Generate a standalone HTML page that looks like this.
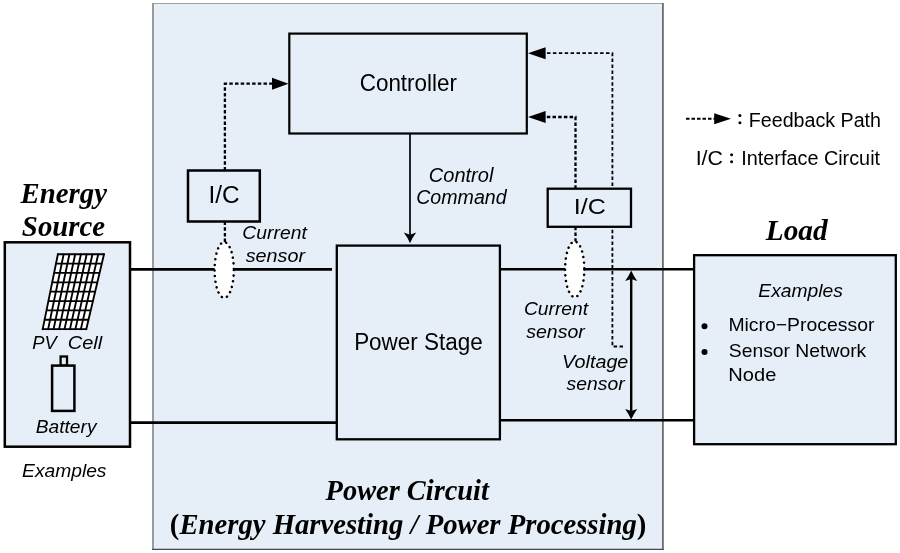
<!DOCTYPE html>
<html><head><meta charset="utf-8">
<style>
html,body{margin:0;padding:0;background:#fff;width:900px;height:553px;overflow:hidden}
svg{display:block;will-change:transform}
text{fill:#000}
</style></head><body>
<svg width="900" height="553" viewBox="0 0 900 553">
<rect x="152.5" y="3.2" width="511" height="546.4" fill="#e6eef8"/><path d="M152.1 3.5H663.5" stroke="#a2a2a2" stroke-width="1.1"/><path d="M153 3V549.6" stroke="#8e9398" stroke-width="1.8"/><path d="M662.9 3V549.8" stroke="#5c5c5c" stroke-width="1.6"/><path d="M152.1 549.3H663.7" stroke="#4a4a4a" stroke-width="1.2"/>
<g fill="none" stroke="#000">
<path d="M224.9 170.5V83.7H274" stroke-width="2.3" stroke-dasharray="3.5 2.2"/>
<path d="M224.9 221.5V243" stroke-width="2.3" stroke-dasharray="3.5 2.2"/>
<path d="M575.5 188.7V117H544" stroke-width="2.3" stroke-dasharray="3.5 2.2"/>
<path d="M575.5 226.8V242" stroke-width="2.3" stroke-dasharray="3.5 2.2"/>
<path d="M623 346.5H612.4V53.2H544" stroke-width="1.8" stroke-dasharray="3.5 2.4"/>
</g>
<path d="M272 77.8L288.5 83.7L272 89.7z" fill="#000"/>
<path d="M545.6 111L528 117L545.6 123z" fill="#000"/>
<path d="M545.6 47.2L528 53.2L545.6 59.2z" fill="#000"/>
<g stroke="#000" stroke-width="2.6" fill="none"><path d="M130 269.4H332"/><path d="M500 269.2H694"/><path d="M130 422.6H336.6"/><path d="M500 420.3H694"/></g>
<rect x="289.3" y="33.6" width="237.5" height="99.9" fill="#e6eef8" stroke="#000" stroke-width="2.2"/>
<text x="359.76" y="90.7" textLength="97.1" lengthAdjust="spacingAndGlyphs" style='font-family:"Liberation Sans",sans-serif;font-size:23.8px'>Controller</text>
<path d="M410 134V237" stroke="#000" stroke-width="1.7"/><path d="M410 243.3Q412.4 237.5 416.2 232.6L410 234.8L403.8 232.6Q407.6 237.5 410 243.3z" fill="#000"/>
<text x="428.81" y="181.7" textLength="64.57" lengthAdjust="spacingAndGlyphs" style='font-family:"Liberation Sans",sans-serif;font-style:italic;font-size:20.2px'>Control</text>
<text x="416.21" y="203.6" textLength="90.45" lengthAdjust="spacingAndGlyphs" style='font-family:"Liberation Sans",sans-serif;font-style:italic;font-size:19.9px'>Command</text>
<rect x="336.8" y="245.6" width="163.1" height="193.7" fill="#e6eef8" stroke="#000" stroke-width="2.3"/>
<text x="354.14" y="349.5" textLength="128.74" lengthAdjust="spacingAndGlyphs" style='font-family:"Liberation Sans",sans-serif;font-size:23px'>Power Stage</text>
<rect x="188" y="170.5" width="71.8" height="51" fill="#e6eef8" stroke="#000" stroke-width="2.5"/>
<text x="208.53" y="203.1" textLength="31.14" lengthAdjust="spacingAndGlyphs" style='font-family:"Liberation Sans",sans-serif;font-size:23.5px'>I/C</text>
<rect x="547.7" y="188.7" width="83.3" height="38.1" fill="#e6eef8" stroke="#000" stroke-width="2.3"/>
<text x="573.72" y="214.1" textLength="32.06" lengthAdjust="spacingAndGlyphs" style='font-family:"Liberation Sans",sans-serif;font-size:22px'>I/C</text>
<ellipse cx="224.2" cy="270" rx="9.6" ry="27.8" fill="#fff" stroke="#000" stroke-width="2.5" stroke-dasharray="0.1 5.5" stroke-linecap="round"/>
<ellipse cx="574.7" cy="269.3" rx="9.6" ry="27.8" fill="#fff" stroke="#000" stroke-width="2.5" stroke-dasharray="0.1 5.5" stroke-linecap="round"/>
<text x="242.29" y="238.5" textLength="64.48" lengthAdjust="spacingAndGlyphs" style='font-family:"Liberation Sans",sans-serif;font-style:italic;font-size:19.2px'>Current</text>
<text x="245.7" y="262" textLength="59.29" lengthAdjust="spacingAndGlyphs" style='font-family:"Liberation Sans",sans-serif;font-style:italic;font-size:19px'>sensor</text>
<text x="523.9" y="314.9" textLength="64.18" lengthAdjust="spacingAndGlyphs" style='font-family:"Liberation Sans",sans-serif;font-style:italic;font-size:19.2px'>Current</text>
<text x="526.2" y="337.5" textLength="58.6" lengthAdjust="spacingAndGlyphs" style='font-family:"Liberation Sans",sans-serif;font-style:italic;font-size:19px'>sensor</text>
<text x="562.14" y="368.2" textLength="66.24" lengthAdjust="spacingAndGlyphs" style='font-family:"Liberation Sans",sans-serif;font-style:italic;font-size:19.2px'>Voltage</text>
<text x="566.5" y="389.9" textLength="58.11" lengthAdjust="spacingAndGlyphs" style='font-family:"Liberation Sans",sans-serif;font-style:italic;font-size:19px'>sensor</text>
<path d="M631.2 276V414" stroke="#000" stroke-width="2.4"/><path d="M631.2 270.4Q633.6 275.8 637.2 281L631.2 279L625.2 281Q628.8 275.8 631.2 270.4z" fill="#000"/><path d="M631.2 419.6Q633.6 414.2 637.2 409L631.2 411L625.2 409Q628.8 414.2 631.2 419.6z" fill="#000"/>
<text x="20.6" y="202.5" textLength="86.3" lengthAdjust="spacingAndGlyphs" style='font-family:"Liberation Serif",serif;font-weight:bold;font-style:italic;font-size:28.5px'>Energy</text>
<text x="21.89" y="236.4" textLength="83.16" lengthAdjust="spacingAndGlyphs" style='font-family:"Liberation Serif",serif;font-weight:bold;font-style:italic;font-size:28.5px'>Source</text>
<rect x="4.8" y="242.3" width="125.2" height="204.4" fill="#e6eef8" stroke="#000" stroke-width="2.5"/>
<path d="M57.90 254.20L104.00 254.20L86.30 329.16L42.70 329.16z" fill="#fff"/><path d="M57.90 254.20H104.00M56.00 263.57H101.79M54.10 272.94H99.58M52.20 282.31H97.36M50.30 291.68H95.15M48.40 301.05H92.94M46.50 310.42H90.72M44.60 319.79H88.51M42.70 329.16H86.30M57.90 254.20L42.70 329.16M63.66 254.20L48.15 329.16M69.42 254.20L53.60 329.16M75.19 254.20L59.05 329.16M80.95 254.20L64.50 329.16M86.71 254.20L69.95 329.16M92.47 254.20L75.40 329.16M98.24 254.20L80.85 329.16M104.00 254.20L86.30 329.16" stroke="#000" stroke-width="1.85" fill="none" stroke-linecap="square"/>
<text x="32.2" y="349.3" textLength="24.49" lengthAdjust="spacingAndGlyphs" style='font-family:"Liberation Sans",sans-serif;font-style:italic;font-size:18.3px'>PV</text>
<text x="67.81" y="349.3" textLength="34.45" lengthAdjust="spacingAndGlyphs" style='font-family:"Liberation Sans",sans-serif;font-style:italic;font-size:18.3px'>Cell</text>
<rect x="60.6" y="356.5" width="6.4" height="9.1" fill="#e6eef8" stroke="#000" stroke-width="2.3"/>
<rect x="52.1" y="365.6" width="22.3" height="45.3" fill="#e6eef8" stroke="#000" stroke-width="2.5"/>
<text x="35.82" y="433.2" textLength="60.67" lengthAdjust="spacingAndGlyphs" style='font-family:"Liberation Sans",sans-serif;font-style:italic;font-size:17.8px'>Battery</text>
<text x="22.07" y="477.4" textLength="84.4" lengthAdjust="spacingAndGlyphs" style='font-family:"Liberation Sans",sans-serif;font-style:italic;font-size:18.6px'>Examples</text>
<text x="765.8" y="239.5" textLength="61.88" lengthAdjust="spacingAndGlyphs" style='font-family:"Liberation Serif",serif;font-weight:bold;font-style:italic;font-size:28.5px'>Load</text>
<rect x="694.1" y="255.2" width="201.7" height="189" fill="#e6eef8" stroke="#000" stroke-width="2.3"/>
<text x="758.37" y="296.6" textLength="84.5" lengthAdjust="spacingAndGlyphs" style='font-family:"Liberation Sans",sans-serif;font-style:italic;font-size:18.6px'>Examples</text>
<circle cx="704.5" cy="326.2" r="3" fill="#000"/><circle cx="704.5" cy="351.9" r="3" fill="#000"/>
<text x="728.41" y="331.2" textLength="146.0" lengthAdjust="spacingAndGlyphs" style='font-family:"Liberation Sans",sans-serif;font-size:18.6px'>Micro−Processor</text>
<text x="728.76" y="356.9" textLength="137.53" lengthAdjust="spacingAndGlyphs" style='font-family:"Liberation Sans",sans-serif;font-size:18.6px'>Sensor Network</text>
<text x="728.34" y="380.6" textLength="48.03" lengthAdjust="spacingAndGlyphs" style='font-family:"Liberation Sans",sans-serif;font-size:18.6px'>Node</text>
<path d="M686 118.7H715" stroke="#000" stroke-width="2" stroke-dasharray="3.5 2"/><path d="M714.2 113.2L731 118.7L714.2 124.2z" fill="#000"/>
<circle cx="739.9" cy="115.5" r="1.5" fill="#000"/><circle cx="739.9" cy="122.8" r="1.5" fill="#000"/>
<text x="748.84" y="126.8" textLength="132.17" lengthAdjust="spacingAndGlyphs" style='font-family:"Liberation Sans",sans-serif;font-size:20px'>Feedback Path</text>
<text x="695.7" y="164.8" textLength="27.27" lengthAdjust="spacingAndGlyphs" style='font-family:"Liberation Sans",sans-serif;font-size:20.3px'>I/C</text>
<circle cx="731.6" cy="154.7" r="1.5" fill="#000"/><circle cx="731.6" cy="161.7" r="1.5" fill="#000"/>
<text x="741.32" y="165" textLength="138.74" lengthAdjust="spacingAndGlyphs" style='font-family:"Liberation Sans",sans-serif;font-size:20px'>Interface Circuit</text>
<text x="325.6" y="499.6" textLength="163.29" lengthAdjust="spacingAndGlyphs" style='font-family:"Liberation Serif",serif;font-weight:bold;font-style:italic;font-size:28.5px'>Power Circuit</text>
<text x="408.1" y="533.8" text-anchor="middle" style="font-family:'Liberation Serif',serif;font-weight:bold;font-size:28.7px">(<tspan style="font-style:italic">Energy Harvesting / Power Processing</tspan>)</text>
</svg>
</body></html>
